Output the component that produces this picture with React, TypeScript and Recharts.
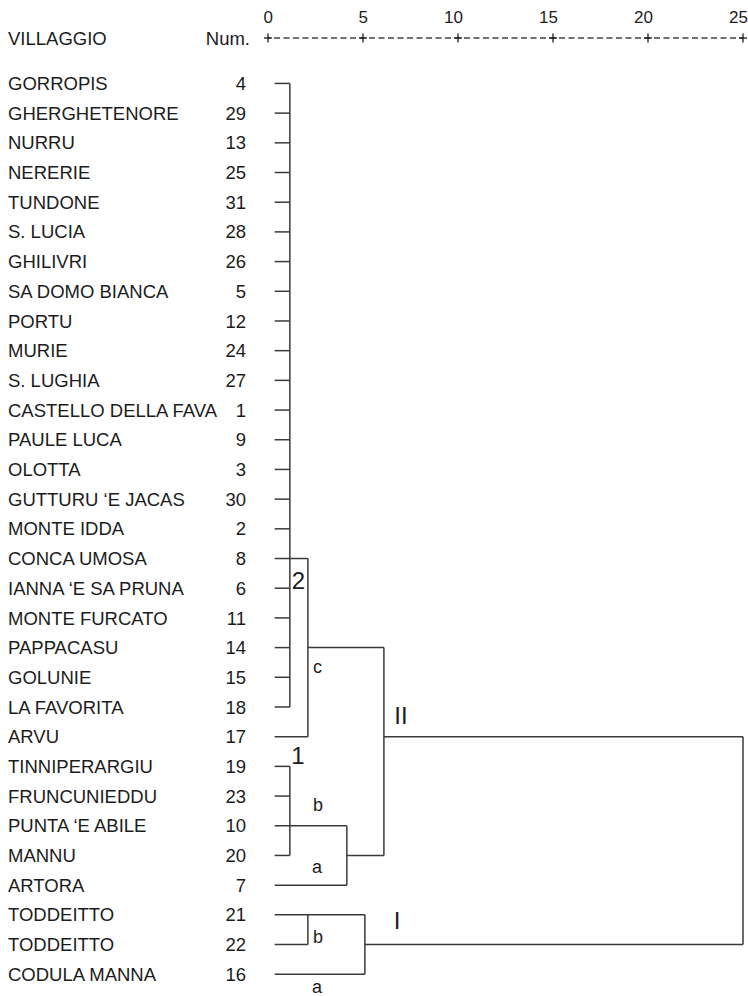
import React from 'react';
import { ComposedChart, XAxis, YAxis, ReferenceLine, Scatter } from 'recharts';

const villages = [
  'GORROPIS', 'GHERGHETENORE', 'NURRU', 'NERERIE', 'TUNDONE', 'S. LUCIA', 'GHILIVRI',
  'SA DOMO BIANCA', 'PORTU', 'MURIE', 'S. LUGHIA', 'CASTELLO DELLA FAVA', 'PAULE LUCA',
  'OLOTTA', 'GUTTURU ‘E JACAS', 'MONTE IDDA', 'CONCA UMOSA', 'IANNA ‘E SA PRUNA',
  'MONTE FURCATO', 'PAPPACASU', 'GOLUNIE', 'LA FAVORITA', 'ARVU', 'TINNIPERARGIU',
  'FRUNCUNIEDDU', 'PUNTA ‘E ABILE', 'MANNU', 'ARTORA', 'TODDEITTO', 'TODDEITTO', 'CODULA MANNA',
];
const nums = [4, 29, 13, 25, 31, 28, 26, 5, 12, 24, 27, 1, 9, 3, 30, 2, 8, 6, 11, 14, 15, 18, 17, 19, 23, 10, 20, 7, 21, 22, 16];

// distance at which each leaf first joins a cluster
const leafHeights = [
  1.15, 1.15, 1.15, 1.15, 1.15, 1.15, 1.15, 1.15, 1.15, 1.15, 1.15, 1.15, 1.15, 1.15, 1.15, 1.15,
  1.15, 1.15, 1.15, 1.15, 1.15, 1.15, 2.1, 1.15, 1.15, 1.15, 1.15, 4.15, 2.1, 2.1, 5.1,
];
const LEAF_START = 0.35;

// merges: height, first row, last row, row carrying the link up, parent height
const mergeHeights = [1.15, 2.1, 1.15, 4.15, 6.1, 2.1, 5.1, 25];
const mergeTop = [0, 16, 23, 25, 19, 28, 28, 22];
const mergeBottom = [21, 22, 26, 27, 26, 29, 30, 29];
const mergeOutRow = [16, 19, 25, 26, 22, 28, 29, null];
const mergeParent = [2.1, 6.1, 4.15, 6.1, 25, 5.1, 25, null];

const xTicks = [0, 5, 10, 15, 20, 25];
const headers = ['VILLAGGIO', 'Num.'];

// cluster annotations (text, distance, row)
const annText = ['2', 'c', 'II', '1', 'b', 'a', 'I', 'b', 'a'];
const annX = [1.6, 2.6, 7.0, 1.58, 2.63, 2.58, 6.79, 2.63, 2.58];
const annRow = [16.75, 19.65, 21.3, 22.64, 24.29, 26.4, 28.2, 28.75, 30.44];

const TOP = -1.53;
const BOTTOM = 30.7;
const FONT = 'Arial, "Liberation Sans", sans-serif';
const INK = '#1c1c1c';
const LINE = '#3a3a3a';

const rows = villages.map((_, i) => i);
const annotations = annText.map((t, i) => ({ text: t, x: annX[i], row: annRow[i] }));

const hSegs = [
  ...leafHeights.map((h, row) => ({ row, x1: LEAF_START, x2: h })),
  ...mergeHeights
    .map((h, i) => ({ row: mergeOutRow[i], x1: h, x2: mergeParent[i] }))
    .filter((s) => s.row !== null),
];
const vSegs = mergeHeights.map((h, i) => ({ x: h, r1: mergeTop[i], r2: mergeBottom[i] }));

const RowTick = (props: any) => {
  const { y, payload } = props;
  if (payload.value === TOP) {
    return (
      <g fontFamily={FONT} fill={INK} fontSize={18.5}>
        <text x={8} y={y + 7}>{headers[0]}</text>
        <text x={250} y={y + 7} textAnchor="end">{headers[1]}</text>
      </g>
    );
  }
  const i = payload.value;
  return (
    <g fontFamily={FONT} fill={INK} fontSize={18.5}>
      <text x={8} y={y + 6.6}>{villages[i]}</text>
      <text x={246} y={y + 6.6} textAnchor="end">{nums[i]}</text>
    </g>
  );
};

const DistTick = (props: any) => {
  const { x, y, payload } = props;
  return (
    <g>
      <text x={x + 5} y={y - 15} textAnchor="end" fontFamily={FONT} fontSize={17} fill={INK}>
        {payload.value}
      </text>
      <line x1={x - 4} x2={x + 4} y1={y} y2={y} stroke={INK} strokeWidth={1.3} />
      <line x1={x} x2={x} y1={y - 4.5} y2={y + 4.5} stroke={INK} strokeWidth={1.3} />
    </g>
  );
};

const AnnShape = (props: any) => {
  const { cx, cy, payload } = props;
  const big = /^[0-9I]+$/.test(payload.text);
  return (
    <text
      x={cx}
      y={cy}
      textAnchor="middle"
      dominantBaseline="central"
      fontFamily={FONT}
      fontSize={big ? 24 : 18}
      fill={INK}
    >
      {payload.text}
    </text>
  );
};

export default function App() {
  return (
    <div style={{ position: 'absolute', left: 0, top: 0, background: '#fff' }}>
      <ComposedChart width={748} height={996} margin={{ top: 8, right: 5, bottom: 1, left: 0 }}>
        <XAxis
          type="number"
          dataKey="x"
          orientation="top"
          domain={[0, 25]}
          ticks={xTicks}
          interval={0}
          allowDataOverflow
          height={30}
          tickSize={0}
          tickMargin={0}
          tickLine={false}
          axisLine={{ stroke: '#444', strokeWidth: 1.4, strokeDasharray: '6 3.5', strokeDashoffset: -6 }}
          tick={<DistTick />}
        />
        <YAxis
          type="number"
          dataKey="row"
          domain={[TOP, BOTTOM]}
          reversed
          ticks={[TOP, ...rows]}
          interval={0}
          allowDataOverflow
          width={268}
          axisLine={false}
          tickLine={false}
          tick={<RowTick />}
        />
        {hSegs.map((s, i) => (
          <ReferenceLine
            key={`h-${i}`}
            segment={[{ x: s.x1, y: s.row }, { x: s.x2, y: s.row }]}
            stroke={LINE}
            strokeWidth={1.5}
            ifOverflow="visible"
          />
        ))}
        {vSegs.map((s, i) => (
          <ReferenceLine
            key={`v-${i}`}
            segment={[{ x: s.x, y: s.r1 }, { x: s.x, y: s.r2 }]}
            stroke={LINE}
            strokeWidth={1.5}
            ifOverflow="visible"
          />
        ))}
        <Scatter data={annotations} shape={<AnnShape />} isAnimationActive={false} />
      </ComposedChart>
    </div>
  );
}
